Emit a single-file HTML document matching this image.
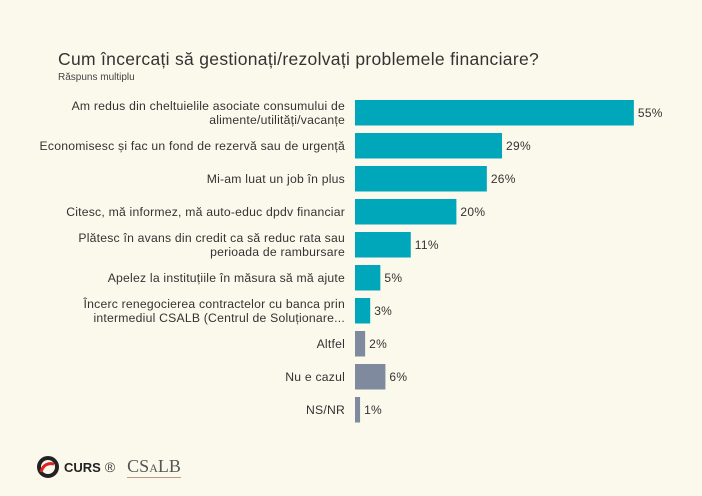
<!DOCTYPE html>
<html><head><meta charset="utf-8"><style>
body{margin:0;width:702px;height:496px;background:#fbf9ec;font-family:"Liberation Sans",sans-serif;overflow:hidden;position:relative}
.t{position:absolute;left:58px;top:49px;font-size:17.5px;letter-spacing:0.3px;color:#333}
.s{position:absolute;left:58px;top:72px;font-size:10px;color:#444}
</style></head><body>
<div class="t">Cum încercați să gestionați/rezolvați problemele financiare?</div>
<div class="s">Răspuns multiplu</div>
<svg id="c" width="702" height="496" style="position:absolute;left:0;top:0"></svg>
<div style="position:absolute;left:36px;top:456px;display:flex;align-items:center;gap:4px">
<svg width="24" height="22"><circle cx="12" cy="11" r="9" fill="none" stroke="#222" stroke-width="4"/><path d="M5 16 Q8 6 18 8" stroke="#d22" stroke-width="3" fill="none"/></svg>
<span style="font-weight:bold;font-size:13px;color:#222">CURS</span><span style="font-size:14px;color:#444">®</span>
<span style="font-family:'Liberation Serif',serif;font-size:18px;color:#555;margin-left:8px;border-bottom:1px solid #b98;">CS<span style="font-size:12px">A</span>LB</span></div>
<script>
const categories=[["Am redus din cheltuielile asociate consumului de","alimente/utilități/vacanțe"],["Economisesc și fac un fond de rezervă sau de urgență"],["Mi-am luat un job în plus"],["Citesc, mă informez, mă auto-educ dpdv financiar"],["Plătesc în avans din credit ca să reduc rata sau","perioada de rambursare"],["Apelez la instituțiile în măsura să mă ajute"],["Încerc renegocierea contractelor cu banca prin","intermediul CSALB (Centrul de Soluționare..."],["Altfel"],["Nu e cazul"],["NS/NR"]];
const values=[55,29,26,20,11,5,3,2,6,1];
const groups=["a","a","a","a","a","a","a","b","b","b"];
const svg=document.getElementById('c'),NS="http://www.w3.org/2000/svg";
const x=v=>355+v*5.07, y=i=>100+i*33;
function mk(t,a){const e=document.createElementNS(NS,t);for(const k in a)e.setAttribute(k,a[k]);svg.appendChild(e);return e;}
values.forEach((v,i)=>{
 const r=mk('rect',{x:355,y:y(i),width:x(v)-355,height:25.5,fill:groups[i]=="a"?"#00a6b9":"#7f8a9e"});
 
 
 const t=mk('text',{x:x(v)+4,y:y(i)+17,'font-size':12,'letter-spacing':0.3,fill:'#333'});t.textContent=v+'%';
 
 
 const L=categories[i];
 L.forEach((s,j)=>{const l=mk('text',{x:345,y:y(i)+17+(j-(L.length-1)/2)*14,'text-anchor':'end','font-size':12.2,'letter-spacing':0.22,fill:'#333'});l.textContent=s;
 
 });
});
</script>
</body></html>
